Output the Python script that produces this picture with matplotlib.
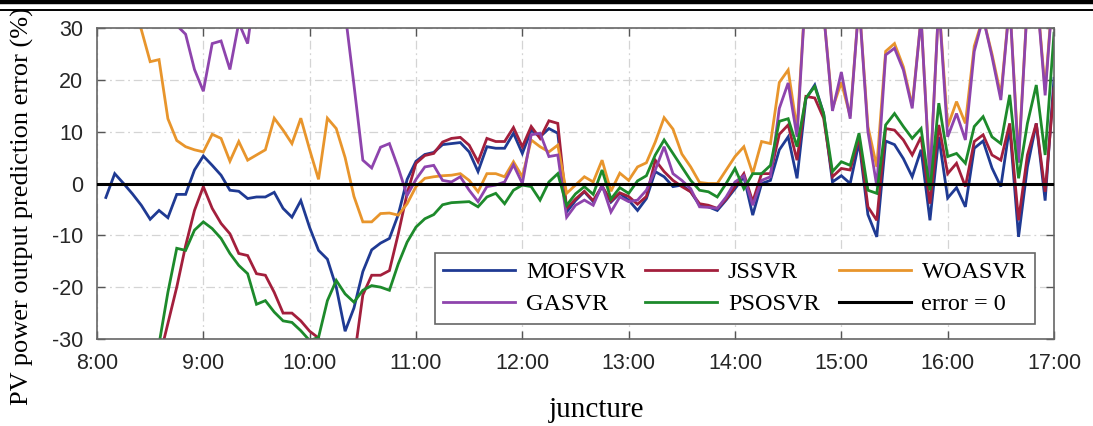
import matplotlib
matplotlib.use('Agg')
import matplotlib.pyplot as plt
from matplotlib.lines import Line2D
import numpy as np

# time axis: 5-minute steps from 8:05 to 17:00 (hours)
step_minutes = 5
n_points = 108
times = 8 + np.arange(1, n_points + 1) * step_minutes / 60.0

tick_hours = [8, 9, 10, 11, 12, 13, 14, 15, 16, 17]
tick_labels = ['8:00', '9:00', '10:00', '11:00', '12:00', '13:00', '14:00', '15:00', '16:00', '17:00']
ytick_values = [-30, -20, -10, 0, 10, 20, 30]
ytick_labels = ['-30', '-20', '-10', '0', '10', '20', '30']

mofsvr = [-2.7, 1.9, 0.0, -2.0, -4.2, -6.9, -5.2, -6.6, -2.1, -2.1,
          2.6, 5.3, 3.5, 1.6, -1.3, -1.5, -2.9, -2.6, -2.6, -1.7,
          -4.8, -6.5, -3.3, -8.5, -12.9, -14.6, -20.0, -28.5, -24.0, -17.0,
          -12.8, -11.5, -10.6, -6.0, 0.8, 4.3, 5.6, 6.0, 7.5, 7.7,
          7.9, 6.1, 2.3, 7.1, 6.8, 6.8, 9.7, 5.8, 10.3, 9.0,
          10.6, 9.7, -5.5, -3.3, -1.6, -3.5, -0.6, -3.6, -1.9, -3.2,
          -5.2, -2.9, 2.3, 1.3, -0.6, -0.3, -1.6, -4.2, -4.5, -5.2,
          -3.2, -1.0, 1.3, -6.1, 0.0, 0.6, 6.5, 9.0, 1.0, 16.3,
          19.0, 13.5, 0.3, 1.5, 0.0, 8.0, -6.0, -10.3, 8.2, 7.5,
          4.8, 1.3, 6.5, -7.1, 9.0, -2.8, -0.8, -4.5, 6.8, 8.2,
          3.0, -0.6, 11.0, -10.3, 3.2, 11.6, -3.3, 20.3]

jssvr = [-40, -40, -40, -40, -40, -38, -34, -27, -20, -12,
         -5.2, -0.6, -4.8, -7.7, -9.7, -13.5, -13.9, -17.4, -17.7, -21.0,
         -25.0, -25.0, -26.5, -28.5, -29.8, -33, -35, -36, -34, -21.5,
         -17.7, -17.7, -16.8, -9.7, -1.9, 3.9, 5.4, 5.8, 8.0, 8.7,
         8.9, 7.4, 4.2, 8.7, 8.1, 8.1, 10.8, 7.1, 11.0, 8.7,
         12.1, 11.6, -4.8, -3.0, -1.5, -3.3, -0.5, -3.4, -1.8, -2.5,
         -4.0, -2.5, 4.5, 2.3, 0.6, -0.6, -1.6, -3.9, -4.2, -4.8,
         -3.0, -0.6, 1.9, -3.5, 1.9, 1.9, 9.5, 11.3, 4.5, 16.8,
         16.5, 12.6, 1.3, 2.9, 2.6, 9.0, -4.5, -7.1, 10.6, 10.3,
         8.4, 5.5, 9.0, -3.9, 11.3, 1.9, 3.9, -0.6, 8.1, 9.4,
         5.5, 4.5, 11.6, -7.1, 5.5, 11.6, -1.6, 18.4]

woasvr = [45, 42, 38, 34, 29.7, 23.5, 23.9, 12.5, 8.3, 7.1,
          6.5, 6.1, 9.5, 8.7, 4.3, 8.1, 4.5, 5.5, 6.5, 12.6,
          10.3, 7.7, 12.6, 6.5, 0.8, 12.6, 10.6, 5.0, -2.5, -7.4,
          -7.4, -5.8, -5.7, -6.1, -3.9, -0.6, 1.0, 1.3, 1.5, 1.6,
          1.9, 0.6, -1.6, 1.9, 1.9, 1.3, 4.2, 1.3, 8.4, 7.1,
          6.1, 7.4, -1.9, -0.3, 1.3, 0.3, 4.5, -1.5, 2.0, 0.6,
          3.2, 4.0, 8.0, 12.7, 10.5, 5.7, 3.2, 0.2, 0.0, 0.0,
          2.6, 5.2, 7.1, 1.9, 8.1, 7.7, 19.5, 21.9, 10.5, 38,
          40, 33, 14.5, 19.5, 13.0, 35, 11.0, 3.2, 25.5, 27.0,
          22.5, 15.0, 32, 1.0, 35, 11.0, 15.8, 11.6, 26.5, 32,
          25, 17, 35, 5, 35, 38, 18, 40]

gasvr = [48, 47, 45, 44, 42, 40, 38, 34, 30.5, 28.8,
         22, 17.8, 27, 27.5, 22, 31, 27, 40, 45, 48,
         50, 50, 50, 50, 50, 48, 44, 33, 19, 4.5,
         3.0, 7.0, 7.7, 3.0, -2.3, 0.8, 3.2, 3.5, 0.6, 0.3,
         1.3, -1.3, -3.5, -0.6, -0.3, 0.3, 3.6, 0.0, 9.4, 9.7,
         5.2, 5.5, -6.5, -4.2, -3.2, -4.2, -0.3, -5.5, -2.6, -3.5,
         -3.2, -1.3, 2.6, 7.1, 1.9, 0.6, -1.0, -4.5, -4.6, -4.8,
         -2.6, 0.3, 1.5, -4.2, 0.6, 1.3, 14.5, 19.4, 9.0, 38,
         40, 33, 14.0, 21.5, 12.5, 35, 10.0, -0.5, 24.8, 26.1,
         21.9, 14.5, 32, 0.6, 35, 9.0, 13.5, 8.4, 25.5, 32,
         24.5, 16.1, 35, 4, 35, 38, 17, 40]

psosvr = [-45, -45, -42, -40, -38, -35, -31, -21, -12.5, -12.9,
          -9.0, -7.4, -8.7, -10.6, -13.5, -15.8, -17.4, -23.3, -22.6, -24.8,
          -26.5, -26.8, -28.4, -30.3, -29.7, -22.6, -18.7, -21.3, -22.9, -20.6,
          -19.7, -20.0, -20.6, -15.5, -11.3, -8.4, -6.8, -6.0, -4.1, -3.7,
          -3.6, -3.5, -4.5, -2.6, -1.9, -3.9, -1.3, -0.3, -0.6, -3.2,
          0.3, 1.9, -4.2, -2.0, -0.6, -2.1, 2.6, -3.0, -0.8, -1.9,
          0.5, 1.5, 5.5, 8.4, 5.8, 3.2, 0.6, -1.3, -1.6, -2.6,
          0.0, 2.9, -1.0, 1.9, 1.9, 3.5, 12.0, 12.5, 7.1, 16.5,
          18.7, 13.5, 2.3, 4.2, 3.5, 9.7, -1.3, -1.9, 11.3, 13.5,
          11.0, 8.7, 10.6, -1.3, 15.5, 5.2, 5.8, 3.9, 11.0, 12.9,
          9.0, 7.7, 17.1, 1.0, 11.6, 19.0, 5.5, 29.0]

series = [
    ('MOFSVR', mofsvr, '#1f3a93'),
    ('JSSVR', jssvr, '#a31f3c'),
    ('WOASVR', woasvr, '#e8952c'),
    ('GASVR', gasvr, '#8e44ad'),
    ('PSOSVR', psosvr, '#1d8a2b'),
]

plt.rcParams['font.family'] = ['Liberation Sans', 'DejaVu Sans']

fig = plt.figure(figsize=(10.93, 4.26), dpi=100)
ax = fig.add_axes([97/1093, 1-339/426, (1054-97)/1093, (339-28)/426])

handles = {}
for name, vals, col in series:
    h, = ax.plot(times, vals, color=col, lw=2.0, label=name, solid_joinstyle='miter')
    handles[name] = h
h0 = ax.axhline(0, color='black', lw=2.2, label='error = 0', zorder=5)
handles['error = 0'] = h0

ax.set_xlim(8, 17)
ax.set_ylim(-30, 30)
ax.set_xticks(tick_hours)
ax.set_xticklabels(tick_labels)
ax.set_yticks(ytick_values)
ax.set_yticklabels(ytick_labels)
ax.tick_params(direction='in', length=6, width=1, colors='#555555', labelcolor='#262626',
               labelsize=15.5, top=True, right=True)
ax.tick_params(axis='x', pad=10)
ax.tick_params(axis='y', pad=10)
ax.grid(True, color='#d4d4d4', lw=0.9, linestyle=(0, (7, 3, 1.5, 3)))
for s in ax.spines.values():
    s.set_color('#666666')
    s.set_linewidth(1.2)

order = ['MOFSVR', 'GASVR', 'JSSVR', 'PSOSVR', 'WOASVR', 'error = 0']
leg = ax.legend([handles[o] for o in order], order, ncol=3, loc='lower right',
                bbox_to_anchor=((1035-97)/957, (339-324)/311),
                prop={'family': ['Liberation Serif'], 'size': 17.5},
                frameon=True, fancybox=False, edgecolor='#666666', framealpha=1,
                handlelength=2.95, handletextpad=0.45, columnspacing=0.8,
                labelspacing=0.42, borderpad=0.35, borderaxespad=0)
leg.get_frame().set_linewidth(1.2)
leg.set_zorder(10)

fig.text(22/1093, 1-206/426, 'PV power output prediction error (%)', rotation=90,
         ha='center', va='center', fontsize=19, family=['Liberation Serif'])
fig.text(597/1093, 1-410/426, 'juncture', ha='center', va='center',
         fontsize=21, family=['Liberation Serif'])

fig.add_artist(Line2D([0, 1], [1-2.3/426, 1-2.3/426], transform=fig.transFigure,
                      color='black', lw=3.2))
fig.add_artist(Line2D([0, 1], [1-10/426, 1-10/426], transform=fig.transFigure,
                      color='black', lw=1.4))

fig.savefig('out.png', dpi=100)
